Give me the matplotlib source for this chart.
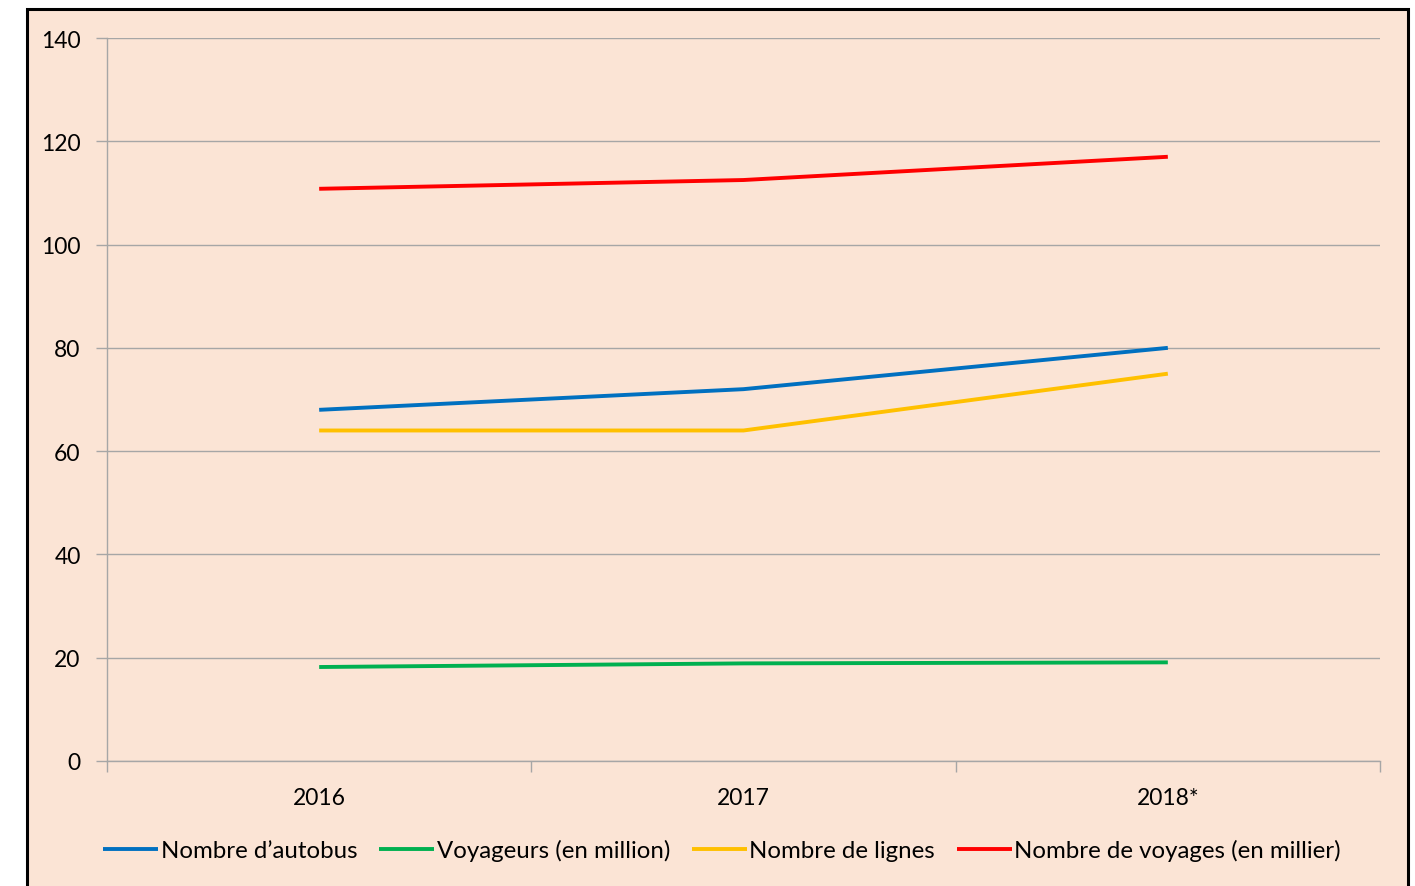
import matplotlib.pyplot as plt
from matplotlib.patches import Rectangle

plt.rcParams['font.family'] = ['Lato', 'DejaVu Sans']

annees = ["2016", "2017", "2018*"]
autobus = [68, 72, 80]
voyageurs = [18.2, 18.9, 19.1]
lignes = [64, 64, 75]
voyages = [110.8, 112.5, 117]

series = [
    ("Nombre d\u2019autobus", autobus, "#0070C0"),
    ("Voyageurs (en million)", voyageurs, "#00B050"),
    ("Nombre de lignes", lignes, "#FFC000"),
    ("Nombre de voyages (en millier)", voyages, "#FF0000"),
]

fond = "#FBE4D5"
gris = "#A6A6A6"

fig = plt.figure(figsize=(14.15, 8.87), dpi=100)
fig.patch.set_facecolor("white")
# cadre du graphique, dessiné sous les axes
cadre = Rectangle((27 / 1415, -0.05), 1381 / 1415, 1.05 - 10 / 887,
                  transform=fig.transFigure, facecolor=fond,
                  edgecolor="black", linewidth=2.2, zorder=-10)
fig.patches.append(cadre)

ax = fig.add_axes([107 / 1415, 1 - 762 / 887, 1273 / 1415, 723 / 887])
ax.patch.set_alpha(0)

x = range(len(annees))
for nom, vals, couleur in series:
    ax.plot(x, vals, color=couleur, linewidth=2.8, label=nom,
            solid_capstyle="butt", zorder=3)

ax.set_xlim(-0.5, 2.5)
ax.set_ylim(0, 140)
ax.set_yticks(range(0, 141, 20))
ax.set_xticks(list(x))
ax.set_xticklabels(annees)
ax.set_xticks([-0.5, 0.5, 1.5, 2.5], minor=True)
ax.tick_params(axis="x", which="major", length=0, pad=19, labelsize=16.5)
ax.tick_params(axis="x", which="minor", length=8, color=gris, width=1)
ax.tick_params(axis="y", length=8, color=gris, width=1, pad=11, labelsize=16.5)
ax.grid(axis="y", color=gris, linewidth=1)
ax.set_axisbelow(True)

for cote in ["top", "right"]:
    ax.spines[cote].set_visible(False)
for cote in ["left", "bottom"]:
    ax.spines[cote].set_color(gris)
    ax.spines[cote].set_linewidth(1)

ax.legend(loc="center", bbox_to_anchor=(722 / 1415, 1 - 851 / 887),
          bbox_transform=fig.transFigure, ncol=4, frameon=False,
          fontsize=17.3, handlelength=2.3, handletextpad=0.1,
          columnspacing=0.9)

fig.savefig("out.png", dpi=100, facecolor="white")
